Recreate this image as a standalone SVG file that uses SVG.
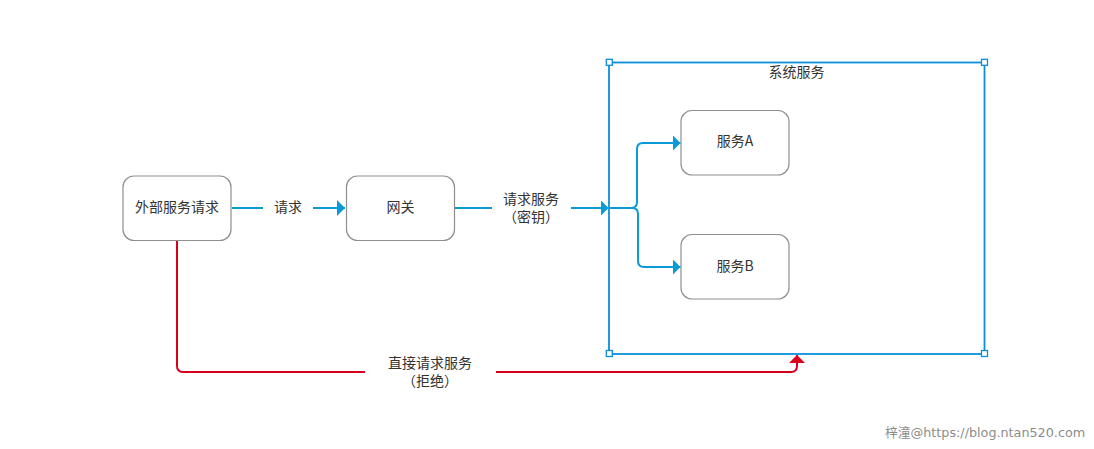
<svg xmlns="http://www.w3.org/2000/svg" width="1094" height="449" viewBox="0 0 1094 449">
<style>
text{font-family:"Noto Sans CJK SC","Liberation Sans",sans-serif;font-size:14px;fill:#333;text-anchor:middle}
.n{fill:#fff;stroke:#8f8f8f;stroke-width:1.2}
.b{fill:none;stroke:#0a9ad6;stroke-width:2}
.r{fill:none;stroke:#d9001b;stroke-width:2}
.h{fill:#fff;stroke:#0a8fdc;stroke-width:1.3}
.wm{font-size:12.75px;fill:#8c8c8c;font-family:"DejaVu Sans","Noto Sans CJK SC",sans-serif;text-anchor:start}
</style>
<defs>
<marker id="ab" markerUnits="userSpaceOnUse" markerWidth="9" markerHeight="16" refX="8" refY="8" orient="auto"><path d="M0 0L8 8L0 16Z" fill="#0a9ad6"/></marker>
<marker id="ar" markerUnits="userSpaceOnUse" markerWidth="9" markerHeight="16" refX="8" refY="8" orient="auto"><path d="M0 0L8 8L0 16Z" fill="#d9001b"/></marker>
</defs>
<rect width="1094" height="449" fill="#fff"/>
<g id="system">
<rect x="609" y="62.500" width="375.500" height="291.500" fill="none" stroke="#0a8fdc" stroke-width="1.800"/>
<rect class="h" x="606.300" y="59.300" width="6" height="6"/>
<rect class="h" x="981.500" y="59.300" width="6" height="6"/>
<rect class="h" x="606.300" y="350.500" width="6" height="6"/>
<rect class="h" x="981.500" y="350.500" width="6" height="6"/>
<text x="796.500" y="77">系统服务</text>
</g>
<g id="connectors">
<path class="b" d="M232 208H263"/>
<path class="b" d="M313 208H345" marker-end="url(#ab)"/>
<path class="b" d="M455 208H492"/>
<path class="b" d="M571 208H608.500" marker-end="url(#ab)"/>
<path class="b" d="M609 208H631Q637 208 637 202V149Q637 143 643 143H680.500" marker-end="url(#ab)"/>
<path class="b" d="M609 208H632Q638 208 638 214V261Q638 267 644 267H680.500" marker-end="url(#ab)"/>
<path class="r" d="M177 241V366Q177 372 183 372H365"/>
<path class="r" d="M496 372H791Q797 372 797 366V355" marker-end="url(#ar)"/>
</g>
<g id="external"><rect class="n" x="123" y="176" width="108" height="64.500" rx="11"/><text x="177" y="212">外部服务请求</text></g>
<g id="gateway"><rect class="n" x="346.500" y="176" width="108" height="64.500" rx="11"/><text x="400.500" y="212">网关</text></g>
<g id="serviceA"><rect class="n" x="681" y="110.500" width="108" height="64.500" rx="11"/><text x="735" y="146">服务A</text></g>
<g id="serviceB"><rect class="n" x="681" y="234.500" width="108" height="64.500" rx="11"/><text x="735" y="271">服务B</text></g>
<g id="labels">
<text x="288" y="212">请求</text>
<text x="531" y="203.500">请求服务</text>
<text x="531" y="221.500">（密钥）</text>
<text x="430" y="367.500">直接请求服务</text>
<text x="430" y="385.500">（拒绝）</text>
<text class="wm" x="885" y="437">梓潼@https://blog.ntan520.com</text>
</g>
</svg>
